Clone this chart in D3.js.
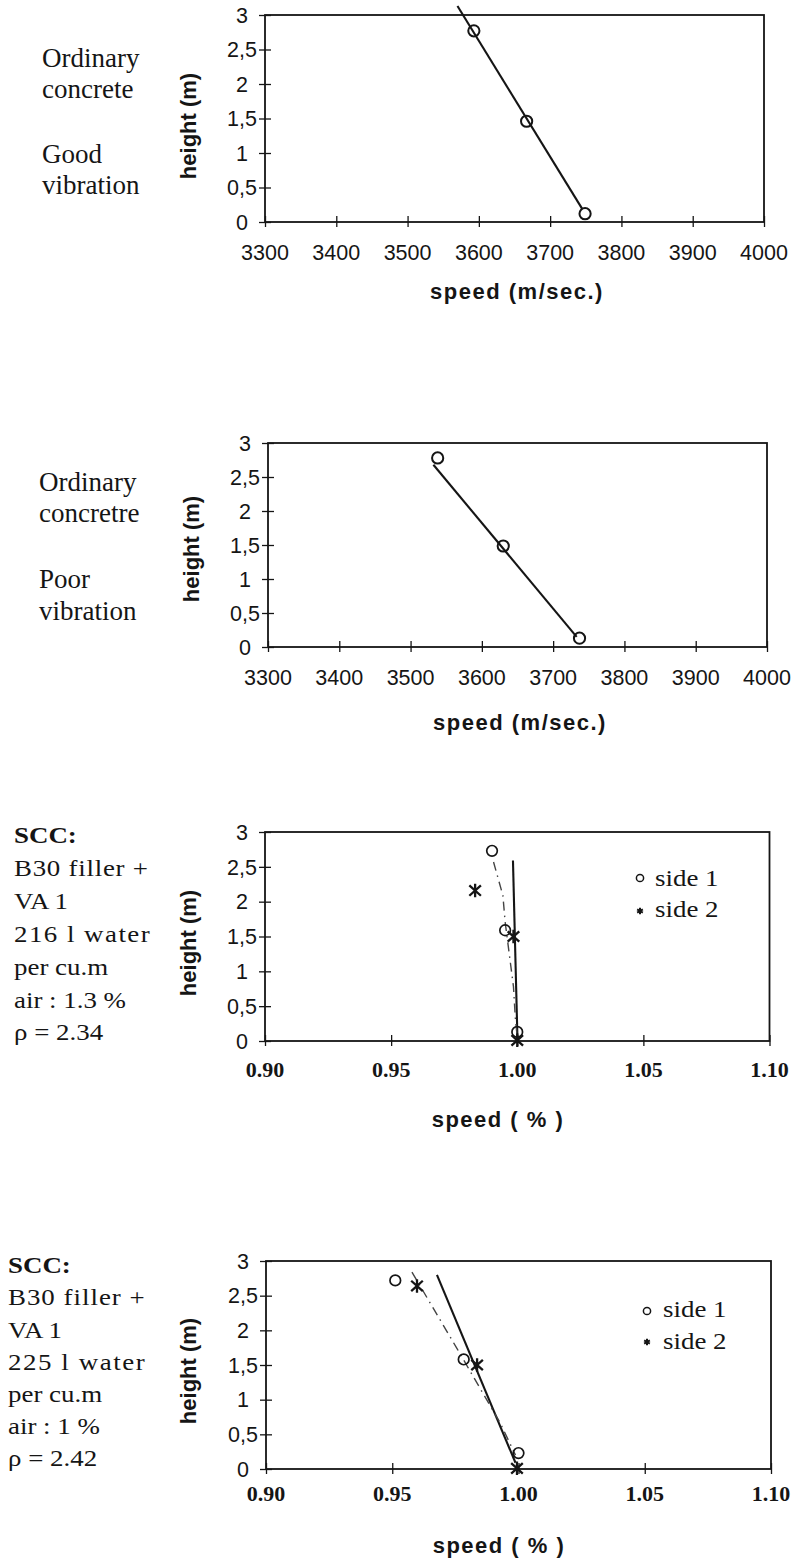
<!DOCTYPE html>
<html>
<head>
<meta charset="utf-8">
<script src="https://cdn.jsdelivr.net/npm/d3@7"></script>
<style>
  html, body { margin: 0; padding: 0; background: #fff; }
  svg { display: block; }
</style>
</head>
<body>
<svg id="chart" width="799" height="1561"></svg>
<script>
// ---- axis ticks and their labels ----
const heightTicks = [0, 0.5, 1, 1.5, 2, 2.5, 3];
const heightTickLabels = ["0", "0,5", "1", "1,5", "2", "2,5", "3"];
const speedTicks = [3300, 3400, 3500, 3600, 3700, 3800, 3900, 4000];
const ratioTicks = [0.90, 0.95, 1.00, 1.05, 1.10];
const ratioTickLabels = ["0.90", "0.95", "1.00", "1.05", "1.10"];

// ---- ordinary concrete, good vibration ----
const goodSpeed = [3593, 3667, 3749];
const goodHeight = [2.77, 1.46, 0.12];
const goodTrendSpeed = [3570, 3745];
const goodTrendHeight = [3.13, 0.19];

// ---- ordinary concrete, poor vibration ----
const poorSpeed = [3538, 3630, 3737];
const poorHeight = [2.78, 1.485, 0.13];
const poorTrendSpeed = [3532, 3733];
const poorTrendHeight = [2.68, 0.15];

// ---- SCC, 216 l water ----
const scc216Side1Speed = [0.990, 0.9952, 1.000];
const scc216Side1Height = [2.73, 1.59, 0.13];
const scc216Side2Speed = [0.9833, 0.9985, 1.000];
const scc216Side2Height = [2.16, 1.50, 0.01];
const scc216SolidSpeed = [0.9983, 1.0001];
const scc216SolidHeight = [2.59, 0.0];
const scc216DashSpeed = [0.9906, 0.9943, 0.9952, 0.9969, 0.9985, 0.9992, 1.000];
const scc216DashHeight = [2.57, 2.09, 1.71, 1.23, 0.78, 0.35, 0.05];

// ---- SCC, 225 l water ----
const scc225Side1Speed = [0.9512, 0.9783, 1.000];
const scc225Side1Height = [2.72, 1.58, 0.23];
const scc225Side2Speed = [0.9598, 0.9836, 0.9994];
const scc225Side2Height = [2.64, 1.50, 0.01];
const scc225SolidSpeed = [0.9677, 0.9988];
const scc225SolidHeight = [2.80, 0.09];
const scc225DashSpeed = [0.9578, 0.9756, 0.9928, 0.9988];
const scc225DashHeight = [2.84, 1.74, 0.66, 0.20];

// ---- side captions ----
const goodCaption = ["Ordinary", "concrete", "Good", "vibration"];
const poorCaption = ["Ordinary", "concretre", "Poor", "vibration"];
const scc216Caption = ["SCC:", "B30 filler +", "VA 1", "216 l water", "per cu.m", "air : 1.3 %", "\u03C1 = 2.34"];
const scc225Caption = ["SCC:", "B30 filler +", "VA 1", "225 l water", "per cu.m", "air : 1 %", "\u03C1 = 2.42"];
const legendLabels = ["side 1", "side 2"];

const zip = (xs, ys) => xs.map((x, i) => [x, ys[i]]);

const svg = d3.select("#chart");
const INK = "#151515";
const SANS = "'Liberation Sans', Arial, sans-serif";
const SERIF = "'Liberation Serif', 'Times New Roman', serif";

// six-armed star: an X with a vertical bar through it
function starPath(hw, hh) {
  const p = d3.path();
  p.moveTo(-hw, -hw * 0.9); p.lineTo(hw, hw * 0.9);
  p.moveTo(-hw, hw * 0.9); p.lineTo(hw, -hw * 0.9);
  p.moveTo(0, -hh); p.lineTo(0, hh);
  return p.toString();
}

// Layout of the four plots
const panels = [
  {
    left: 265, right: 764, top: 15, bottom: 222,
    xDomain: [3300, 4000], xTicks: speedTicks, xLabels: speedTicks.map(String),
    xLabelBase: 260, xTitle: "speed (m/sec.)", xTitleBase: 299, xTitleX: 517,
    yTitleX: 196, yTitleY: 126, metric: true,
    series: [{ pts: zip(goodSpeed, goodHeight), marker: "circle" }],
    lines: [{ pts: zip(goodTrendSpeed, goodTrendHeight), style: "solid" }],
    caption: { lines: goodCaption, x: 42, ys: [67, 98, 163, 194], bold: [], size: 26.5, sx: 1.02 }
  },
  {
    left: 268, right: 767, top: 443, bottom: 647,
    xDomain: [3300, 4000], xTicks: speedTicks, xLabels: speedTicks.map(String),
    xLabelBase: 685, xTitle: "speed (m/sec.)", xTitleBase: 730, xTitleX: 520,
    yTitleX: 199, yTitleY: 549, metric: true,
    series: [{ pts: zip(poorSpeed, poorHeight), marker: "circle" }],
    lines: [{ pts: zip(poorTrendSpeed, poorTrendHeight), style: "solid" }],
    caption: { lines: poorCaption, x: 39, ys: [491, 522, 588, 620], bold: [], size: 26.5, sx: 1.02 }
  },
  {
    left: 265, right: 769.5, top: 832, bottom: 1041,
    xDomain: [0.90, 1.10], xTicks: ratioTicks, xLabels: ratioTickLabels,
    xLabelBase: 1077, xTitle: "speed ( % )", xTitleBase: 1127, xTitleX: 498,
    yTitleX: 196, yTitleY: 943, metric: false,
    series: [
      { pts: zip(scc216Side1Speed, scc216Side1Height), marker: "circle" },
      { pts: zip(scc216Side2Speed, scc216Side2Height), marker: "star" }
    ],
    lines: [
      { pts: zip(scc216SolidSpeed, scc216SolidHeight), style: "solid" },
      { pts: zip(scc216DashSpeed, scc216DashHeight), style: "dashdot" }
    ],
    legend: { x: 640, ys: [878, 911], textX: 655, bases: [886, 917] },
    caption: { lines: scc216Caption, x: 14, ys: [843, 876, 909, 942, 975, 1008, 1040], bold: [0],
               size: 23, sx: 1.17, justify: { 1: 114.5, 3: 116 } }
  },
  {
    left: 266, right: 771, top: 1261, bottom: 1469,
    xDomain: [0.90, 1.10], xTicks: ratioTicks, xLabels: ratioTickLabels,
    xLabelBase: 1501, xTitle: "speed ( % )", xTitleBase: 1553, xTitleX: 499,
    yTitleX: 196, yTitleY: 1371, metric: false,
    series: [
      { pts: zip(scc225Side1Speed, scc225Side1Height), marker: "circle" },
      { pts: zip(scc225Side2Speed, scc225Side2Height), marker: "star" }
    ],
    lines: [
      { pts: zip(scc225SolidSpeed, scc225SolidHeight), style: "solid" },
      { pts: zip(scc225DashSpeed, scc225DashHeight), style: "dashdot" }
    ],
    legend: { x: 647, ys: [1311, 1342], textX: 663, bases: [1317, 1349] },
    caption: { lines: scc225Caption, x: 8, ys: [1273, 1305, 1338, 1370, 1402, 1434, 1466], bold: [0],
               size: 23, sx: 1.17, justify: { 1: 116.8, 3: 116.8 } }
  }
];

const legendStar = d3.symbol().type(d3.symbolAsterisk).size(30);

panels.forEach(p => {
  const x = d3.scaleLinear().domain(p.xDomain).range([p.left, p.right]);
  const y = d3.scaleLinear().domain([0, 3]).range([p.bottom, p.top]);
  const g = svg.append("g");

  // plot frame
  g.append("rect")
    .attr("x", p.left).attr("y", p.top)
    .attr("width", p.right - p.left).attr("height", p.bottom - p.top)
    .attr("fill", "none").attr("stroke", INK).attr("stroke-width", 1.8);

  // x axis ticks crossing the bottom edge
  const xAxis = d3.axisBottom(x).tickValues(p.xTicks).tickSize(0).tickFormat("");
  g.append("g").attr("transform", `translate(0,${p.bottom})`).call(xAxis)
    .call(a => a.select(".domain").remove())
    .call(a => a.selectAll(".tick line").attr("y1", -6).attr("y2", 5)
      .attr("stroke", INK).attr("stroke-width", 1.3));

  g.selectAll(".xlab").data(p.xTicks).join("text")
    .attr("x", d => x(d)).attr("y", p.xLabelBase)
    .attr("text-anchor", "middle")
    .attr("fill", INK)
    .style("font-family", p.metric ? SANS : SERIF)
    .style("font-weight", p.metric ? "normal" : "bold")
    .style("font-size", p.metric ? "21.5px" : "22px")
    .text((d, i) => p.xLabels[i]);

  // y axis ticks crossing the left edge
  const yAxis = d3.axisLeft(y).tickValues(heightTicks).tickSize(0).tickFormat("");
  g.append("g").attr("transform", `translate(${p.left},0)`).call(yAxis)
    .call(a => a.select(".domain").remove())
    .call(a => a.selectAll(".tick line").attr("x1", -6).attr("x2", 6)
      .attr("stroke", INK).attr("stroke-width", 1.3));

  g.selectAll(".ylab").data(heightTicks).join("text")
    .attr("x", (d, i) => p.left - (heightTickLabels[i].includes(",") ? 8 : 17))
    .attr("y", d => y(d)).attr("dy", "0.36em")
    .attr("text-anchor", "end")
    .attr("fill", INK)
    .style("font-family", SANS).style("font-size", "21.5px")
    .text((d, i) => heightTickLabels[i]);

  // axis titles
  g.append("text")
    .attr("transform", `translate(${p.yTitleX},${p.yTitleY}) rotate(-90)`)
    .attr("text-anchor", "middle").attr("fill", INK)
    .style("font-family", SANS).style("font-weight", "bold").style("font-size", "22px")
    .text("height (m)");

  g.append("text")
    .attr("x", p.xTitleX).attr("y", p.xTitleBase)
    .attr("text-anchor", "middle").attr("fill", INK)
    .style("font-family", SANS).style("font-weight", "bold").style("font-size", "22px")
    .style("letter-spacing", "1.5px")
    .text(p.xTitle);

  // trend lines
  const line = d3.line().x(d => x(d[0])).y(d => y(d[1]));
  p.lines.forEach(l => {
    g.append("path").attr("d", line(l.pts))
      .attr("fill", "none")
      .attr("stroke", l.style === "solid" ? INK : "#444")
      .attr("stroke-width", l.style === "solid" ? 2.1 : 1.4)
      .attr("stroke-dasharray", l.style === "solid" ? null : "9,5,1.5,5");
  });

  // measured points
  p.series.forEach(s => {
    if (s.marker === "circle") {
      g.selectAll(null).data(s.pts).join("circle")
        .attr("cx", d => x(d[0])).attr("cy", d => y(d[1]))
        .attr("r", p.metric ? 5.6 : 5.3)
        .attr("fill", "none").attr("stroke", INK)
        .attr("stroke-width", p.metric ? 2 : 1.7);
    } else {
      g.selectAll(null).data(s.pts).join("path")
        .attr("transform", d => `translate(${x(d[0])},${y(d[1])})`)
        .attr("d", starPath(5.8, 6.8))
        .attr("fill", "none").attr("stroke", INK).attr("stroke-width", 2.3);
    }
  });

  // legend
  if (p.legend) {
    const L = p.legend;
    g.append("circle").attr("cx", L.x).attr("cy", L.ys[0]).attr("r", 3.6)
      .attr("fill", "none").attr("stroke", INK).attr("stroke-width", 1.5);
    g.append("path").attr("transform", `translate(${L.x},${L.ys[1]})`)
      .attr("d", legendStar())
      .attr("fill", "none").attr("stroke", INK).attr("stroke-width", 2);
    legendLabels.forEach((t, i) => {
      g.append("text")
        .attr("transform", `translate(${L.textX},${L.bases[i]}) scale(1.17,1)`)
        .attr("fill", INK)
        .style("font-family", SERIF).style("font-size", "23px")
        .text(t);
    });
  }

  // side caption
  const c = p.caption;
  c.lines.forEach((t, i) => {
    const txt = g.append("text")
      .attr("transform", `translate(${c.x},${c.ys[i]}) scale(${c.sx},1)`)
      .attr("fill", INK)
      .style("font-family", SERIF)
      .style("font-size", c.size + "px")
      .style("font-weight", c.bold.includes(i) ? "bold" : "normal")
      .text(t);
    if (c.justify && c.justify[i]) {
      txt.attr("textLength", c.justify[i]).attr("lengthAdjust", "spacing");
    }
  });
});
</script>
</body>
</html>
